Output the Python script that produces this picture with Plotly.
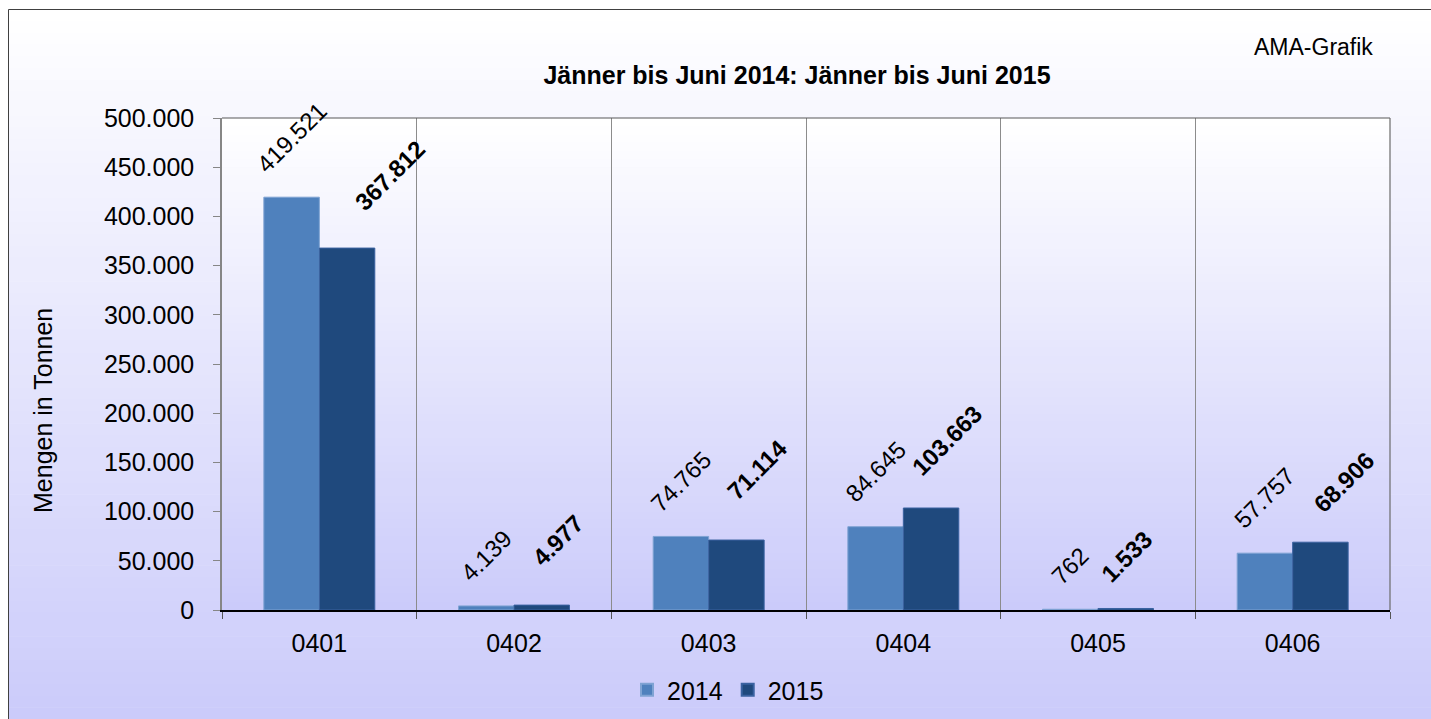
import plotly.graph_objects as go

# ---- data ----
categories = ["0401", "0402", "0403", "0404", "0405", "0406"]
values_2014 = [419521, 4139, 74765, 84645, 762, 57757]
values_2015 = [367812, 4977, 71114, 103663, 1533, 68906]
series_names = ["2014", "2015"]
y_tick_vals = [0, 50000, 100000, 150000, 200000, 250000, 300000, 350000, 400000, 450000, 500000]

title_text = "Jänner bis Juni 2014: Jänner bis Juni 2015"
y_title = "Mengen in Tonnen"
credit = "AMA-Grafik"

# ---- style ----
FONT = "Liberation Sans, Arial, sans-serif"
C2014 = "#4F81BD"
C2015 = "#1F497D"
BARGAP = 0.43
W, H = 1431, 719
ML, MR, MT, MB = 222, 41, 118, 109
PW = W - ML - MR
PH = H - MT - MB
# manual nudges (pixels) of the 2015 data labels, as placed in the original
label_nudge_x_2015 = [43, 16, 21, 16, 1, 23]
label_nudge_y_2015 = [12, 14, 15, 7, 1, 5]


def px_to_paper_x(px):
    return (px - ML) / PW


def px_to_paper_y(py):
    return (H - MB - py) / PH


def fmt(v):
    return f"{v:,}".replace(",", ".")


fig = go.Figure()
fig.add_trace(go.Bar(
    x=categories, y=values_2014, name=series_names[0],
    marker=dict(color=C2014, line=dict(color="#7FA3D3", width=1)),
))
fig.add_trace(go.Bar(
    x=categories, y=values_2015, name=series_names[1],
    marker=dict(color=C2015, line=dict(color="#3A62A0", width=1)),
))

# ---- background gradients (chart area and plot area) ----
shapes = []
top_c = (255, 255, 255)
bot_c = (203, 203, 250)


def lerp(t):
    return "rgb(%d,%d,%d)" % tuple(round(a + (b - a) * t) for a, b in zip(top_c, bot_c))


N = 60
y0px, y1px = 9, H
for k in range(N):
    a = y0px + (y1px - y0px) * k / N
    b = y0px + (y1px - y0px) * (k + 1) / N + 0.6
    shapes.append(dict(type="rect", xref="paper", yref="paper",
                       x0=px_to_paper_x(8), x1=px_to_paper_x(W + 2),
                       y0=px_to_paper_y(b), y1=px_to_paper_y(a),
                       fillcolor=lerp((k + 0.5) / N), line=dict(width=0), layer="below"))
for k in range(N):
    a = MT + PH * k / N
    b = MT + PH * (k + 1) / N + 0.6
    shapes.append(dict(type="rect", xref="paper", yref="paper",
                       x0=0, x1=1, y0=max(0, px_to_paper_y(b)), y1=px_to_paper_y(a),
                       fillcolor=lerp((k + 0.5) / N), line=dict(width=0), layer="below"))
# outer border (top and left edges visible)
shapes.append(dict(type="line", xref="paper", yref="paper",
                   x0=px_to_paper_x(8.5), x1=px_to_paper_x(W + 5),
                   y0=px_to_paper_y(9.5), y1=px_to_paper_y(9.5),
                   line=dict(color="#404040", width=1)))
shapes.append(dict(type="line", xref="paper", yref="paper",
                   x0=px_to_paper_x(8.5), x1=px_to_paper_x(8.5),
                   y0=px_to_paper_y(9.5), y1=px_to_paper_y(H + 5),
                   line=dict(color="#404040", width=1)))
# plot area top and right border
shapes.append(dict(type="line", xref="paper", yref="paper", x0=0, x1=1, y0=1, y1=1,
                   line=dict(color="#595959", width=1.2)))
shapes.append(dict(type="line", xref="paper", yref="paper", x0=1, x1=1, y0=0, y1=1,
                   line=dict(color="#6b6b6b", width=1.2)))

# ---- data labels ----
annotations = []
half = (1 - BARGAP) / 4
for i, (v1, v2) in enumerate(zip(values_2014, values_2015)):
    annotations.append(dict(x=i - half, y=v1, xref="x", yref="y", text=fmt(v1),
                            showarrow=False, textangle=-45, yanchor="bottom", xanchor="center",
                            yshift=17, font=dict(family=FONT, size=24, color="black")))
    annotations.append(dict(x=i + half, y=v2, xref="x", yref="y", text="<b>" + fmt(v2) + "</b>",
                            showarrow=False, textangle=-45, yanchor="bottom", xanchor="center",
                            xshift=label_nudge_x_2015[i], yshift=17 + label_nudge_y_2015[i],
                            font=dict(family=FONT, size=24, color="black")))

annotations.append(dict(x=px_to_paper_x(1375), y=px_to_paper_y(47), xref="paper", yref="paper",
                        text=credit, showarrow=False, xanchor="right", yanchor="middle",
                        font=dict(family=FONT, size=23, color="black")))
annotations.append(dict(x=px_to_paper_x(43), y=px_to_paper_y(411), xref="paper", yref="paper",
                        text=y_title, showarrow=False, textangle=-90, xanchor="center",
                        yanchor="middle", font=dict(family=FONT, size=25, color="black")))

fig.update_layout(
    width=W, height=H,
    margin=dict(l=ML, r=MR, t=MT, b=MB, pad=0, autoexpand=False),
    paper_bgcolor="white",
    plot_bgcolor="rgba(0,0,0,0)",
    separators=",.",
    barmode="group",
    bargap=BARGAP,
    bargroupgap=0,
    font=dict(family=FONT, size=25, color="black"),
    title=dict(text="<b>" + title_text + "</b>", x=797 / W, xanchor="center",
               y=1 - 75 / H, yanchor="middle", yref="container",
               font=dict(family=FONT, size=25, color="black")),
    legend=dict(orientation="h", x=px_to_paper_x(728), y=px_to_paper_y(690),
                xanchor="center", yanchor="middle", bgcolor="rgba(0,0,0,0)",
                font=dict(family=FONT, size=25, color="black"), itemsizing="constant",
                traceorder="normal"),
    shapes=shapes,
    annotations=annotations,
    xaxis=dict(
        type="category", tickson="boundaries", ticks="outside", ticklen=7,
        tickcolor="#555555", tickwidth=1.2,
        showgrid=True, gridcolor="#8c8c8c", gridwidth=1.2,
        showline=True, linecolor="black", linewidth=1.5,
        tickfont=dict(family=FONT, size=25, color="black"),
        ticklabelstandoff=10, zeroline=False,
    ),
    yaxis=dict(
        range=[0, 500000], tickvals=y_tick_vals, tickformat=",d",
        ticks="outside", ticklen=7, tickcolor="#868686", tickwidth=1.2,
        showline=True, linecolor="#868686", linewidth=1.5,
        showgrid=False, zeroline=False,
        tickfont=dict(family=FONT, size=25, color="black"),
        ticklabelstandoff=14,
    ),
)

fig.write_html(
    "out.html",
    config={"displayModeBar": False},
    post_script=(
        "document.documentElement.style.margin='0px';"
        "document.documentElement.style.overflow='hidden';"
        "document.body.style.margin='0px';"
        "document.body.style.overflow='hidden';"
    ),
)
